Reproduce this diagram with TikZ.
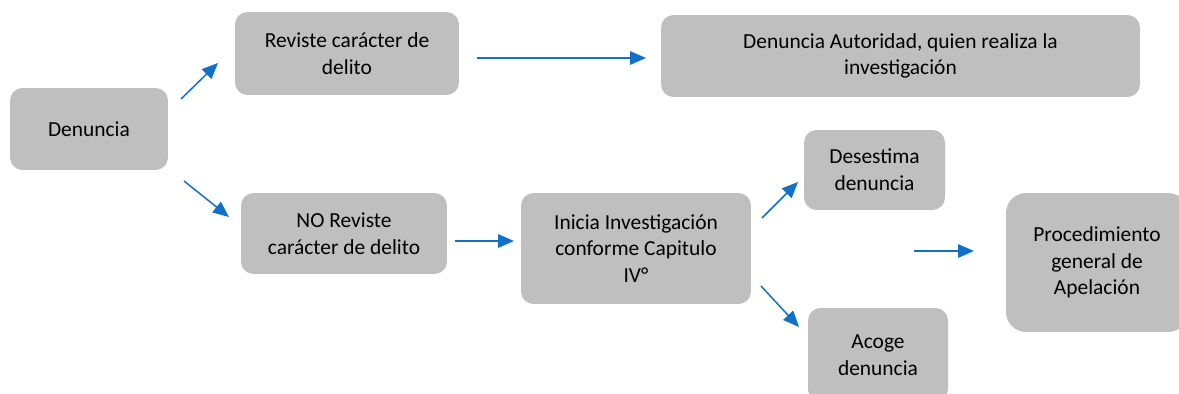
\documentclass[tikz,border=0pt]{standalone}
\usepackage{fontspec}
\setmainfont{Carlito}
\usepackage{tikz}
\usetikzlibrary{arrows.meta,positioning}

\definecolor{cajagris}{HTML}{BFBFBF}
\definecolor{flechaazul}{HTML}{1170C8}

\begin{document}
\begin{tikzpicture}[x=0.02cm, y=-0.02cm,
  caja/.style={rectangle, fill=cajagris, rounded corners=0.25cm, align=center, inner sep=0pt, font=\fontsize{12.2}{15.2}\selectfont},
  flecha/.style={draw=flechaazul, line width=0.85pt, -{Triangle[length=0.32cm,width=0.27cm]}, flechaazul}]
  \useasboundingbox (0,0) rectangle (1179,394);
  \node[caja, minimum width=3.16cm, minimum height=1.64cm] (denuncia) at (89,129) {Denuncia};
  \node[caja, minimum width=4.48cm, minimum height=1.66cm] (reviste) at (347,53.5) {Reviste carácter de\\delito};
  \node[caja, minimum width=9.58cm, minimum height=1.64cm] (autoridad) at (900.5,56) {Denuncia Autoridad, quien realiza la\\investigación};
  \node[caja, minimum width=4.12cm, minimum height=1.62cm] (noreviste) at (344,233.5) {NO Reviste\\carácter de delito};
  \node[caja, minimum width=4.60cm, minimum height=2.22cm] (inicia) at (636,248.5) {Inicia Investigación\\conforme Capitulo\\IV°};
  \node[caja, minimum width=2.82cm, minimum height=1.60cm] (desestima) at (874.5,170) {Desestima\\denuncia};
  \node[caja, minimum width=2.80cm, minimum height=1.88cm] (acoge) at (878,355) {Acoge\\denuncia};
  \node[caja, rounded corners=0.4cm, minimum width=3.64cm, minimum height=2.78cm] (apelacion) at (1097,262.5) {Procedimiento\\general de\\Apelación};

  % flechas sueltas entre cajas
  \coordinate (f1a) at (181,99);  \coordinate (f1b) at (218,63);
  \coordinate (f2a) at (184,181); \coordinate (f2b) at (229,217);
  \coordinate (f3a) at (477,58);  \coordinate (f3b) at (646,58);
  \coordinate (f4a) at (455,241); \coordinate (f4b) at (514,241);
  \coordinate (f5a) at (762,218); \coordinate (f5b) at (798,182);
  \coordinate (f6a) at (761,286); \coordinate (f6b) at (799,327);
  \coordinate (f7a) at (914,251); \coordinate (f7b) at (974,251);
  \draw[flecha] (f1a) -- (f1b);
  \draw[flecha] (f2a) -- (f2b);
  \draw[flecha] (f3a) -- (f3b);
  \draw[flecha] (f4a) -- (f4b);
  \draw[flecha] (f5a) -- (f5b);
  \draw[flecha] (f6a) -- (f6b);
  \draw[flecha] (f7a) -- (f7b);
\end{tikzpicture}
\end{document}
